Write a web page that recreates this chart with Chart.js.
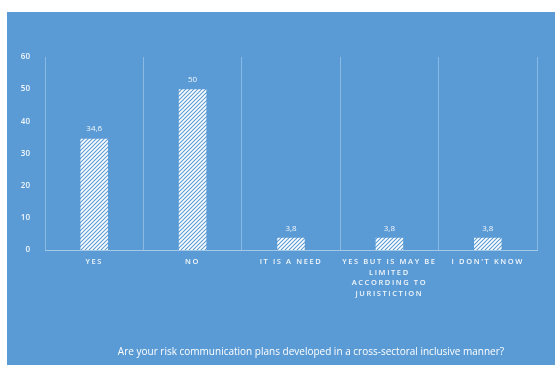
<!DOCTYPE html>
<html>
<head>
<meta charset="utf-8">
<script src="https://cdn.jsdelivr.net/npm/chart.js@4"></script>
<style>
  html, body { margin: 0; padding: 0; background: #fff; }
  #box { position: absolute; left: 7px; top: 12px; width: 548px; height: 353px; background: #5b9bd5; }
</style>
</head>
<body>
<div id="box"><canvas id="chart" width="548" height="353"></canvas></div>
<script>
const categories = [
  'YES',
  'NO',
  'IT IS A NEED',
  ['YES BUT IS MAY BE', 'LIMITED', 'ACCORDING TO', 'JURISTICTION'],
  "I DON'T KNOW"
];
const percentages = [34.6, 50, 3.8, 3.8, 3.8];
const yTicks = [0, 10, 20, 30, 40, 50, 60];
const chartTitle = 'Are your risk communication plans developed in a cross-sectoral inclusive manner?';

const fontFamily = "'Open Sans', 'Noto Sans', sans-serif";
const textColor = 'rgba(255,255,255,0.92)';

// white bars with thin blue diagonal hatch
function hatchPattern() {
  const p = document.createElement('canvas');
  p.width = 4; p.height = 4;
  const c = p.getContext('2d');
  c.fillStyle = '#ffffff';
  c.fillRect(0, 0, 4, 4);
  c.strokeStyle = '#5b9bd5';
  c.lineWidth = 1.1;
  c.beginPath();
  c.moveTo(-1, 5); c.lineTo(5, -1);
  c.moveTo(-1, 1); c.lineTo(1, -1);
  c.moveTo(3, 5); c.lineTo(5, 3);
  c.stroke();
  return document.getElementById('chart').getContext('2d').createPattern(p, 'repeat');
}

// value labels above bars, decimal comma
const valueLabels = {
  id: 'valueLabels',
  afterDatasetsDraw(chart) {
    const ctx = chart.ctx;
    const meta = chart.getDatasetMeta(0);
    ctx.save();
    ctx.font = '8px ' + fontFamily;
    ctx.fillStyle = textColor;
    ctx.textAlign = 'center';
    ctx.textBaseline = 'middle';
    meta.data.forEach((bar, i) => {
      ctx.fillText(String(percentages[i]).replace('.', ','), bar.x, bar.y - 9.5);
    });
    ctx.restore();
  }
};

// spaced-out category labels
const spacedTicks = {
  id: 'spacedTicks',
  afterLayout(chart) {
    const x = chart.scales.x;
    if (x._spaced) return;
    const orig = x.drawLabels.bind(x);
    x.drawLabels = function(area) {
      this.ctx.save();
      this.ctx.letterSpacing = '1.6px';
      orig(area);
      this.ctx.restore();
    };
    x._spaced = true;
  }
};

// question under the chart
const bottomTitle = {
  id: 'bottomTitle',
  afterDraw(chart) {
    const ctx = chart.ctx;
    const a = chart.chartArea;
    ctx.save();
    ctx.font = '10px ' + fontFamily;
    ctx.fillStyle = '#ffffff';
    ctx.textAlign = 'center';
    ctx.textBaseline = 'middle';
    ctx.fillText(chartTitle, (a.left + a.right) / 2 + 20, chart.height - 13);
    ctx.restore();
  }
};

new Chart(document.getElementById('chart'), {
  type: 'bar',
  data: {
    labels: categories,
    datasets: [{
      data: percentages,
      backgroundColor: hatchPattern(),
      borderWidth: 0,
      categoryPercentage: 1,
      barPercentage: 0.28
    }]
  },
  options: {
    responsive: false,
    animation: false,
    layout: { padding: { top: 45, right: 18, bottom: 0, left: 0 } },
    plugins: {
      legend: { display: false },
      tooltip: { enabled: false },
      title: { display: false }
    },
    scales: {
      x: {
        grid: { display: true, offset: true, color: 'rgba(255,255,255,0.3)', drawTicks: false },
        border: { display: true, color: 'rgba(255,255,255,0.45)' },
        ticks: {
          color: textColor,
          font: { family: fontFamily, size: 7.5, weight: '600', lineHeight: 1.4 },
          padding: 7,
          maxRotation: 0,
          autoSkip: false
        },
        afterFit(scale) { scale.height = 115; }
      },
      y: {
        min: 0,
        max: 60,
        afterBuildTicks(scale) { scale.ticks = yTicks.map(v => ({ value: v })); },
        grid: { display: false },
        border: { display: false },
        ticks: {
          color: textColor,
          font: { family: fontFamily, size: 8, weight: '600' },
          padding: 7
        },
        afterFit(scale) { scale.width = 38; }
      }
    }
  },
  plugins: [valueLabels, spacedTicks, bottomTitle]
});
</script>
</body>
</html>
